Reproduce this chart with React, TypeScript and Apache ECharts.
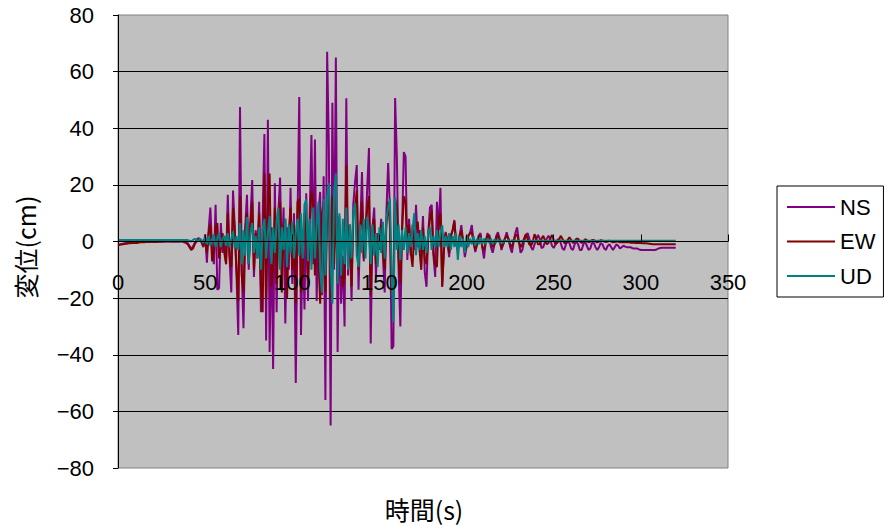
import React, { useEffect, useRef } from "react";
import * as echarts from "echarts";

// time step of the samples (s)
const T_STEP = 1;

const seriesNames = ["NS", "EW", "UD"];
const xTicks = [0, 50, 100, 150, 200, 250, 300, 350];
const yTicks = [-80, -60, -40, -20, 0, 20, 40, 60, 80];

// NS displacement (cm), t = 0..320 s
const ns = [
  -1.2, -1.0, -1.0, -0.8, -0.6, -0.5, -0.4, -0.3, -0.3, -0.2,
  -0.2, -0.2, -0.1, -0.1, 0, 0, 0, 0, 0, 0,
  0, 0, 0, 0, 0, 0, 0, 0, 0.1, 0.1,
  0, 0, 0, 0, 0, 0, 0.2, 0.3, 0.1, 0,
  -0.5, -1.5, -2.5, -1.8, -0.5, 0.5, 1.2, 1.0, -0.5, -2.0,
  2.5, -7.5, 4, 12, -3, -8, 13, -17, -16.5, 6.5,
  -4, 2, -8, 16.5, -6, -18, 18, 5, -12, -33,
  47.5, -10, -30.6, 5, 16.5, -10, 8, 21.7, -12.5, 4,
  -5, 14, -25, 8, 38, -35, 43, -39, 5, -45,
  20.6, -25, 10, 22.6, -8, 12, -29, 5, -10, 19,
  -15, 10, -50, 8, 51, -33, 2, -24, 17, -21,
  10, 37.6, -8, 36, -21, 10, 17.5, -19, 23, -56,
  67, 33, -65, 49, -10, 65, -39, 9, -22, -5,
  -30, 50.6, -12, 5, -21, 13, 21, 27, -17, 5,
  24.5, -7, 3, 19, 33, -36, 5, 12, -12.5, 3,
  -2, 8, -5, -18, 10, 27.7, 12, -38, -37, 50.7,
  30, -10, -30, 5, 31.6, 30, -6.5, 8, -5, 6,
  -3, 13, -2, 4, -4, 9, -10.8, -16, 3, 12,
  13, -5, -12.5, 14, 4, 19, -16, -3, 3.4, 0,
  -5.5, 2, 4, 7.6, 0, -3.7, 2, 5.8, 0, -5.5,
  -2, 2, 3, 5.8, 0, -3.7, -1, 2, 3, -2,
  -6, 0, 3, 1, -2, -4, -1, 2, 3.3, 1,
  -3, -1, 1, 3.3, 1, -2, -4, 0, 3, 5,
  0, -4, -3, 0, 2, 3, 1, -2, -3, -1,
  1, 2.3, 1, -2.3, -2, 0, 1, 2, 1, -1.5,
  -2.3, -1, 0.5, 1, -0.5, -2.5, -3, -1, 0, -0.5,
  -2.5, -3, -1, 0, -1, -3, -3, -1, 0, -1.5,
  -3, -2.5, -0.5, -0.5, -2, -3, -2, -0.5, -1, -2.5,
  -3, -1.5, -1, -2, -3, -2, -1, -1.5, -2.5, -2,
  -1.5, -1.8, -2, -2, -2, -2.3, -2.5, -2.5, -2.5, -2.8,
  -3, -3, -3, -3, -3, -3, -3, -3, -3, -2.8,
  -2.5, -2.3, -2.2, -2.2, -2.2, -2.2, -2.2, -2.2, -2.2, -2.2,
  -2.2,
];

// EW displacement (cm), t = 0..320 s
const ew = [
  -1.2, -1.2, -1.0, -1.0, -0.8, -0.8, -0.6, -0.6, -0.5, -0.5,
  -0.5, -0.5, -0.4, -0.3, -0.3, -0.3, -0.2, -0.2, -0.2, -0.2,
  -0.2, -0.2, -0.2, -0.1, -0.1, -0.1, 0, 0, 0, 0,
  0, 0, 0, 0, 0, 0, 0, 0, -0.3, -0.5,
  -1, -2, -3, -2.5, -1, 0, 0.5, 0.5, 0, -1.5,
  1.5, -4, 3, 6, -7, -3, 5, 6.5, -6, -2,
  3, -4, -8, 10, -5, -9, 12, 4, -10, -21,
  16, -12, -18, 4, 10, -8, 6, 14, -10, 3,
  -6, 10, -16, -25, 24, -20, 12, 24, -16, -8,
  12, -15, 6, 14, -18, 4, 8, -20, 3, 12,
  -10, 6, -22, 14, 15, -18, -12, 10, 3, -14,
  6, 18, 14, -12, 6, -6, -22, 10, 14, -18,
  8, 20, -20, 16, -8, 14, -14, 6, -4, -16,
  -12, 27, -6, 6, -16, 10, 12, 18, -10, 4,
  14, -6, 2, 12, 16, -19, 4, 8, -8, 2,
  -3, 6, -4, -10, 6, 14, 6, -18, -14, 15,
  12, -6, -15, 4, 16, 14, -4, 6, -4, -9,
  4, 5, 7, -3, -10, 5, -6, -8, 2, 8,
  11, -4, -8, -9, 8.6, 10, -16, -3, 3, 0,
  -4, 2, 4, 7, -1, -3, 2, 4, 0, -3,
  -2, 2, 3, 3, 0, -3, -1, 2, 2, -2,
  -3, 0, 2, 2.3, 0, -2, -1, 1, 2.3, 0,
  -2, -1, 1, 2, 1, -1, -2, 0, 2, 2.5,
  0, -2, -1, 1, 2.6, 1, -1, -1.5, 0, 2.6,
  1, -1, -1, 1, 2, 0.5, -1, -0.5, 1, 2.3,
  0.5, -1, -0.5, 0.5, 2, 1, -0.5, -0.5, 0.5, 1.5,
  0.5, -0.5, 0, 1, 1, 0, -0.5, 0, 0.8, 0.5,
  -0.3, 0, 0.5, 0.5, 0, -0.3, 0, 0.5, 0.3, 0,
  -0.2, 0, 0.3, 0, -0.3, -0.2, 0, 0, -0.3, -0.3,
  -0.2, -0.3, -0.3, -0.3, -0.4, -0.4, -0.4, -0.5, -0.5, -0.5,
  -0.5, -0.6, -0.6, -0.6, -0.7, -0.8, -0.9, -1, -1, -1,
  -1, -1, -1, -1, -1, -1, -1, -1, -1, -1,
  -1,
];

// UD displacement (cm), t = 0..320 s
const ud = [
  0.5, 0.5, 0.5, 0.5, 0.5, 0.5, 0.5, 0.5, 0.5, 0.5,
  0.5, 0.5, 0.5, 0.5, 0.5, 0.5, 0.5, 0.5, 0.5, 0.5,
  0.5, 0.5, 0.5, 0.5, 0.5, 0.5, 0.5, 0.5, 0.5, 0.5,
  0.5, 0.5, 0.5, 0.5, 0.5, 0.5, 0.5, 0.5, 0.5, 0.5,
  0.5, 0.3, 0, 0.5, 1, 0.5, 0, 1, 0.5, -0.5,
  1.5, -1, 2, -1.5, 1, 2.5, -2, 1, 3, -2,
  1, 2, -1.5, 3, -2, 1, 3.5, -2.5, 2, -3,
  6.5, -8, 4, -5, 8.6, -8, 3, 6.5, -4, 2,
  -6, 5, -10, 4, 8, -6, 3, 9, -8, 5,
  -4, 7, 12, -10, 5, -3, 8, -9, 6, -4,
  7, -6, 3, 8, -5, 10, -6, 13, 15, -7,
  8, -10, 12, -6, 6, 14, -10, -18, 15, -12,
  16, 20.6, -8, -22, 18, 24, -15, 10, -12, 8,
  -8, 12, -10, 6, -6, 10, 13.6, -5, -9, 6,
  -4, 8, -6, 8.6, 4, -8, 6, -5, 3, -9,
  5, -4, 7, -6, 8, 12, 15, -10, -28.5, 15.7,
  -3, 6, -6.5, 4, -3, 5, -4, 3, -2, 4,
  10, -4.8, 3, -3, 4, -3, 2, -4, 3, 5,
  -3, 2, -2, 4, -2, 3, 5.8, -2, 2, -2,
  3, -3, 2, -2, 3, -6.5, 2, -2, 1, -4,
  2, -2, 1, -1, 2, -1.5, 1, -1, 1.5, -1,
  1, -1, 1, -0.5, 1, -1, 0.8, -0.5, 0.8, -0.5,
  0.5, -0.5, 0.5, 0, 0.5, -0.3, 0.5, 0, 0.5, 0,
  0.3, 0, 0.3, 0, 0.3, 0, 0.3, 0, 0.3, 0,
  0.3, 0.3, 0.3, 0.3, 0.3, 0.3, 0.3, 0.3, 0.3, 0.3,
  0.3, 0.3, 0.3, 0.3, 0.3, 0.3, 0.3, 0.3, 0.3, 0.3,
  0.3, 0.3, 0.3, 0.3, 0.3, 0.3, 0.3, 0.3, 0.3, 0.3,
  0.3, 0.3, 0.3, 0.3, 0.3, 0.3, 0.3, 0.3, 0.3, 0.3,
  0.3, 0.3, 0.3, 0.3, 0.3, 0.3, 0.3, 0.3, 0.3, 0.3,
  0.3, 0.3, 0.3, 0.3, 0.3, 0.3, 0.3, 0.3, 0.3, 0.3,
  0.3, 0.3, 0.3, 0.3, 0.3, 0.3, 0.3, 0.3, 0.3, 0.3,
  0.3, 0.3, 0.3, 0.3, 0.3, 0.3, 0.3, 0.3, 0.3, 0.3,
  0.3,
];

const colors = ["#800080", "#800000", "#008080"];
const LATIN = "'Liberation Sans', Arial, sans-serif";
const CJK = "'Noto Sans CJK JP', 'Liberation Sans', sans-serif";

// grid geometry
const GRID_TOP = 15;
const GRID_BOTTOM = 58;
const CHART_H = 526;

export default function App() {
  const ref = useRef<HTMLDivElement>(null);
  useEffect(() => {
    if (!ref.current) return;
    const chart = echarts.init(ref.current, null, { renderer: "svg" });
    const toData = (arr: number[]) => arr.map((v, i) => [i * T_STEP, v]);
    const allSeries = [ns, ew, ud];
    const plotH = CHART_H - GRID_TOP - GRID_BOTTOM;
    const yMin = yTicks[0];
    const yMax = yTicks[yTicks.length - 1];
    // shift x axis from the bottom edge up to the y = 0 line
    const zeroOffset = -(plotH * (0 - yMin)) / (yMax - yMin);
    chart.setOption({
      animation: false,
      backgroundColor: "#ffffff",
      grid: {
        left: 118,
        right: 156,
        top: GRID_TOP,
        bottom: GRID_BOTTOM,
        show: true,
        backgroundColor: "#c0c0c0",
        borderColor: "#808080",
        borderWidth: 1,
      },
      legend: {
        orient: "vertical",
        left: 777,
        top: 186,
        data: seriesNames,
        icon: "rect",
        backgroundColor: "#ffffff",
        borderColor: "#000000",
        borderWidth: 1,
        borderRadius: 0,
        padding: [10, 8, 10, 10],
        itemWidth: 48,
        itemHeight: 2,
        itemGap: 12.5,
        textStyle: { fontSize: 22, fontFamily: LATIN, color: "#000" },
      },
      xAxis: {
        type: "value",
        min: xTicks[0],
        max: xTicks[xTicks.length - 1],
        interval: 50,
        offset: zeroOffset,
        z: 10,
        axisLine: { show: true, onZero: false, lineStyle: { color: "#000", width: 1 } },
        axisTick: { show: true, inside: true, length: 7, lineStyle: { color: "#000" } },
        axisLabel: {
          margin: 30,
          fontSize: 22,
          fontFamily: LATIN,
          color: "#000",
          showMinLabel: true,
          showMaxLabel: true,
        },
        splitLine: { show: false },
      },
      yAxis: {
        type: "value",
        min: yMin,
        max: yMax,
        interval: 20,
        axisLine: { show: true, onZero: false, lineStyle: { color: "#000", width: 1 } },
        axisTick: { show: true, inside: false, length: 5, lineStyle: { color: "#000" } },
        axisLabel: {
          margin: 24,
          fontSize: 22,
          fontFamily: LATIN,
          color: "#000",
          formatter: (v: number) => String(v).replace("-", "\u2212"),
        },
        splitLine: {
          show: true,
          showMinLine: false,
          showMaxLine: false,
          lineStyle: { color: "#000", width: 1 },
        },
      },
      graphic: [
        {
          type: "text",
          x: 25,
          y: 247,
          rotation: Math.PI / 2,
          style: {
            text: "変位(cm)",
            fontSize: 25,
            fontFamily: CJK,
            fill: "#000",
            align: "center",
            verticalAlign: "middle",
          },
        },
        {
          type: "text",
          x: 424,
          y: 509,
          style: {
            text: "時間(s)",
            fontSize: 25,
            fontFamily: CJK,
            fill: "#000",
            align: "center",
            verticalAlign: "middle",
          },
        },
      ],
      series: allSeries.map((arr, k) => ({
        name: seriesNames[k],
        type: "line",
        data: toData(arr),
        symbol: "none",
        showSymbol: false,
        color: colors[k],
        lineStyle: { color: colors[k], width: 2 },
        z: 2 + k,
      })),
    });
    return () => chart.dispose();
  }, []);
  return (
    <div
      ref={ref}
      style={{ position: "fixed", left: 0, top: 0, width: 884, height: 526 }}
    />
  );
}
